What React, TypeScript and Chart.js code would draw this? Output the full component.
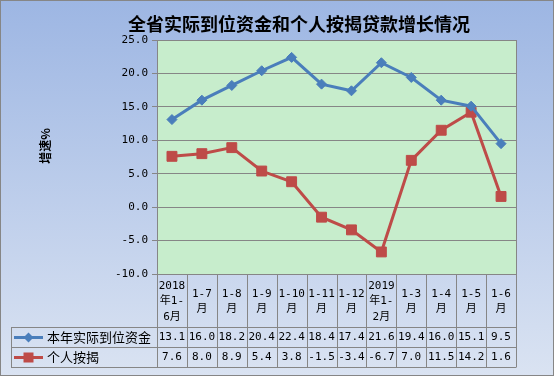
import { useEffect, useRef } from "react";
import { Chart, registerables } from "chart.js";

Chart.register(...registerables);

const chartTitle = "全省实际到位资金和个人按揭贷款增长情况";
const yAxisTitle = "增速%";
const categories: string[][] = [
  ["2018", "年1-", "6月"],
  ["1-7", "月"],
  ["1-8", "月"],
  ["1-9", "月"],
  ["1-10", "月"],
  ["1-11", "月"],
  ["1-12", "月"],
  ["2019", "年1-", "2月"],
  ["1-3", "月"],
  ["1-4", "月"],
  ["1-5", "月"],
  ["1-6", "月"],
];
const seriesNames = ["本年实际到位资金", "个人按揭"];
const fundsGrowth = [13.1, 16.0, 18.2, 20.4, 22.4, 18.4, 17.4, 21.6, 19.4, 16.0, 15.1, 9.5];
const mortgageGrowth = [7.6, 8.0, 8.9, 5.4, 3.8, -1.5, -3.4, -6.7, 7.0, 11.5, 14.2, 1.6];
const yMin = -10;
const yMax = 25;
const yStep = 5;

const BLUE = "#4A7EBB";
const RED = "#BE4B48";
const GRID = "#868686";
const MONO = "'DejaVu Sans Mono', 'Noto Sans CJK SC', monospace";
const CJK = "'Noto Sans CJK SC', sans-serif";

const W = 556;
const H = 378;

export default function App() {
  const ref = useRef<HTMLCanvasElement | null>(null);

  useEffect(() => {
    document.body.style.margin = "0";
    const canvas = ref.current!;
    const series = [fundsGrowth, mortgageGrowth];
    const colors = [BLUE, RED];
    const styles = ["rectRot", "rect"];

    const bgPlugin = {
      id: "bg",
      beforeDraw(chart: any) {
        const ctx = chart.ctx;
        const ca = chart.chartArea;
        ctx.save();
        ctx.fillStyle = "#ffffff";
        ctx.fillRect(0, 0, W, H);
        const g = ctx.createLinearGradient(0, 0, 0, 376);
        g.addColorStop(0, "#9DB6E3");
        g.addColorStop(1, "#DAE3F2");
        ctx.fillStyle = g;
        ctx.fillRect(0, 0, 554, 376);
        ctx.strokeStyle = GRID;
        ctx.lineWidth = 1;
        ctx.strokeRect(0.5, 0.5, 553, 375);
        ctx.fillStyle = "#C7EDCC";
        ctx.fillRect(ca.left, ca.top, ca.right - ca.left, ca.bottom - ca.top);
        ctx.restore();
      },
    };

    const drawMarker = (ctx: any, style: string, x: number, y: number, color: string) => {
      ctx.fillStyle = color;
      if (style === "rect") {
        ctx.fillRect(x - 5, y - 5, 10, 10);
      } else {
        ctx.beginPath();
        ctx.moveTo(x, y - 5);
        ctx.lineTo(x + 5, y);
        ctx.lineTo(x, y + 5);
        ctx.lineTo(x - 5, y);
        ctx.closePath();
        ctx.fill();
      }
    };

    const tablePlugin = {
      id: "table",
      afterDraw(chart: any) {
        const ctx = chart.ctx;
        const ca = chart.chartArea;
        const n = categories.length;
        const colW = (ca.right - ca.left) / n;
        const headerBottom = ca.bottom + 53;
        const rowH = 20;
        const tableBottom = headerBottom + rowH * series.length;
        const legendLeft = 11;
        ctx.save();
        // plot border
        ctx.strokeStyle = GRID;
        ctx.lineWidth = 1;
        ctx.strokeRect(Math.round(ca.left) + 0.5, Math.round(ca.top) + 0.5, Math.round(ca.right - ca.left), Math.round(ca.bottom - ca.top));
        // table grid
        ctx.beginPath();
        for (let k = 0; k <= n; k++) {
          const x = Math.round(ca.left + k * colW) + 0.5;
          ctx.moveTo(x, ca.bottom);
          ctx.lineTo(x, tableBottom);
        }
        for (let r = 0; r <= series.length; r++) {
          const y = Math.round(headerBottom + r * rowH) + 0.5;
          ctx.moveTo(legendLeft, y);
          ctx.lineTo(Math.round(ca.right) + 0.5, y);
        }
        ctx.moveTo(legendLeft + 0.5, headerBottom);
        ctx.lineTo(legendLeft + 0.5, tableBottom);
        ctx.stroke();

        ctx.fillStyle = "#000";
        ctx.textAlign = "center";
        ctx.textBaseline = "middle";
        // category headers
        const headMid = (ca.bottom + headerBottom) / 2 + 1;
        const lh = 15.5;
        categories.forEach((lines, i) => {
          const cx = chart.scales.x.getPixelForValue(i);
          lines.forEach((t, j) => {
            ctx.font = `11px ${MONO}`;
            const y = headMid + (j - (lines.length - 1) / 2) * lh;
            ctx.fillText(t, cx, y);
          });
        });
        // data rows
        series.forEach((vals, r) => {
          const cy = headerBottom + r * rowH + rowH / 2 + 0.5;
          ctx.font = `11px ${MONO}`;
          ctx.textAlign = "center";
          ctx.fillStyle = "#000";
          vals.forEach((v, i) => {
            const cx = chart.scales.x.getPixelForValue(i);
            ctx.fillText(v.toFixed(1), cx, cy);
          });
          // legend key
          ctx.strokeStyle = colors[r];
          ctx.lineWidth = 3;
          ctx.beginPath();
          ctx.moveTo(14, cy);
          ctx.lineTo(43, cy);
          ctx.stroke();
          drawMarker(ctx, styles[r], 28.5, cy, colors[r]);
          ctx.fillStyle = "#000";
          ctx.textAlign = "left";
          ctx.font = `13px ${CJK}`;
          ctx.fillText(seriesNames[r], 47, cy);
        });

        // title
        ctx.textAlign = "center";
        ctx.textBaseline = "middle";
        ctx.font = `bold 18px ${CJK}`;
        ctx.fillText(chartTitle, 299, 24);

        // y title
        ctx.translate(45, 146);
        ctx.rotate(-Math.PI / 2);
        ctx.font = `bold 12px ${CJK}`;
        ctx.fillText(yAxisTitle, 0, 0);
        ctx.restore();
      },
    };

    const chart = new Chart(canvas, {
      type: "line",
      data: {
        labels: categories.map((c) => c.join("")),
        datasets: series.map((vals, r) => ({
          label: seriesNames[r],
          data: vals,
          borderColor: colors[r],
          backgroundColor: colors[r],
          borderWidth: 3,
          pointStyle: styles[r] as any,
          pointRadius: r === 0 ? 5 : 7,
          pointBorderWidth: 1,
          pointBorderColor: colors[r],
          pointBackgroundColor: colors[r],
          tension: 0,
          fill: false,
        })),
      },
      options: {
        responsive: false,
        animation: false,
        devicePixelRatio: 1,
        layout: { padding: { left: 0, right: 40, top: 40, bottom: 104 } },
        plugins: {
          legend: { display: false },
          tooltip: { enabled: false },
          title: { display: false },
        },
        scales: {
          x: {
            type: "category",
            offset: true,
            display: false,
            grid: { display: false },
          },
          y: {
            min: yMin,
            max: yMax,
            ticks: {
              stepSize: yStep,
              color: "#000",
              padding: 4,
              font: { family: MONO, size: 11 },
              callback: (v: any) => Number(v).toFixed(1),
            },
            grid: { color: GRID, lineWidth: 1, tickLength: 5, drawTicks: true },
            border: { display: true, color: GRID },
            afterFit: (s: any) => {
              s.width = 157;
            },
          },
        },
      },
      plugins: [bgPlugin, tablePlugin],
    });
    return () => chart.destroy();
  }, []);

  return (
    <div style={{ width: W, height: H, margin: 0 }}>
      <canvas ref={ref} width={W} height={H} style={{ display: "block", width: W, height: H }} />
    </div>
  );
}
